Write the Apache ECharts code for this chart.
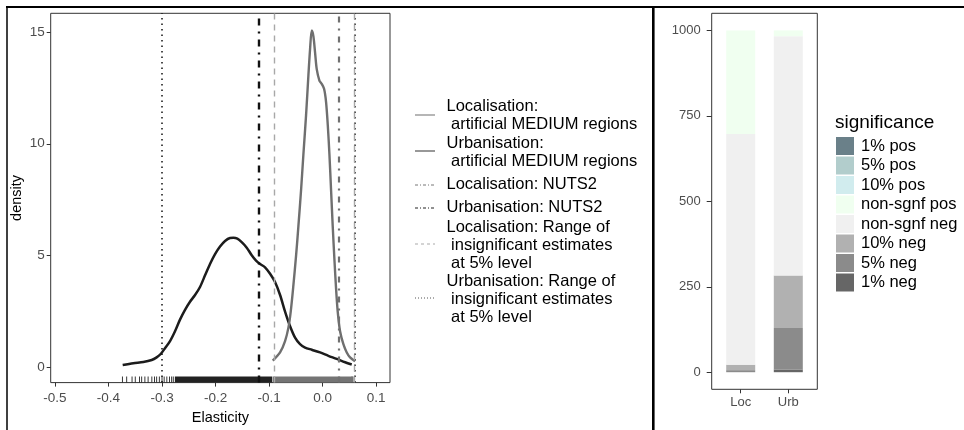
<!DOCTYPE html>
<html>
<head>
<meta charset="utf-8">
<script src="https://cdn.jsdelivr.net/npm/echarts@6/dist/echarts.min.js"></script>
<style>
html, body { margin: 0; padding: 0; background: #fff; }
#chart { width: 964px; height: 430px; }
</style>
</head>
<body>
<div id="chart"></div>
<script>
// Kernel density of the localisation estimates (artificial MEDIUM regions)
const locX = [-0.0931, -0.0794, -0.0701, -0.0639, -0.0595, -0.0545, -0.0495, -0.0452, -0.0402, -0.0358, -0.0308, -0.0265, -0.0234, -0.0202, -0.0171, -0.0140, -0.0109, -0.0059, -0.0016, 0.0028, 0.0065, 0.0097, 0.0128, 0.0159, 0.0190, 0.0221, 0.0252, 0.0283, 0.0327, 0.0389, 0.0452, 0.0514, 0.0607];
const locY = [0.29, 0.66, 1.17, 1.76, 2.49, 3.67, 4.99, 6.30, 7.92, 9.53, 11.29, 13.05, 14.22, 15.07, 14.81, 14.08, 13.34, 12.83, 12.68, 12.46, 11.88, 10.85, 9.53, 7.92, 6.30, 4.84, 3.52, 2.49, 1.61, 1.03, 0.66, 0.44, 0.26];
// Kernel density of the urbanisation estimates (artificial MEDIUM regions)
const urbX = [-0.3735, -0.3536, -0.3349, -0.3193, -0.3100, -0.3025, -0.2944, -0.2850, -0.2757, -0.2664, -0.2570, -0.2477, -0.2383, -0.2290, -0.2196, -0.2103, -0.2009, -0.1916, -0.1822, -0.1729, -0.1667, -0.1592, -0.1511, -0.1417, -0.1324, -0.1243, -0.1168, -0.1075, -0.0981, -0.0888, -0.0794, -0.0701, -0.0607, -0.0514, -0.0421, -0.0327, -0.0202, -0.0047, 0.0109, 0.0265, 0.0421, 0.0545];
const urbY = [0.10, 0.18, 0.23, 0.32, 0.44, 0.59, 0.85, 1.17, 1.61, 2.13, 2.57, 2.93, 3.23, 3.59, 4.11, 4.62, 5.06, 5.40, 5.65, 5.78, 5.79, 5.75, 5.60, 5.35, 5.01, 4.77, 4.62, 4.47, 4.18, 3.81, 3.23, 2.49, 1.83, 1.32, 1.03, 0.88, 0.78, 0.66, 0.51, 0.37, 0.22, 0.12];

// NUTS2 estimates and ranges of insignificant estimates
const locNuts2 = 0.025;
const urbNuts2 = -0.123;
const locInsigRange = [-0.087, 0.061];
const urbInsigRange = [-0.305, 0.056];

// Rug of individual estimates: [from, to] (single estimates have from == to)
const urbRug = [[-0.374, -0.374], [-0.366, -0.366], [-0.356, -0.356], [-0.350, -0.350], [-0.342, -0.342], [-0.338, -0.338], [-0.332, -0.332], [-0.326, -0.326], [-0.319, -0.319], [-0.314, -0.314], [-0.310, -0.310], [-0.305, -0.305], [-0.300, -0.300], [-0.296, -0.296], [-0.291, -0.291], [-0.286, -0.286], [-0.282, -0.282], [-0.279, -0.279], [-0.276, -0.094], [0.055, 0.055]];
const locRug = [[-0.093, 0.058]];

// Axis ticks of the density panel
const elasticityTicks = [-0.5, -0.4, -0.3, -0.2, -0.1, 0, 0.1];
const densityTicks = [0, 5, 10, 15];

// Counts of estimates by significance class
const sigCategories = ['Loc', 'Urb'];
const sigLevels = ['1% neg', '5% neg', '10% neg', 'non-sgnf neg', 'non-sgnf pos', '10% pos', '5% pos', '1% pos'];
const sigLoc = [0, 6, 16, 675, 303, 0, 0, 0];
const sigUrb = [8, 121, 154, 700, 17, 0, 0, 0];
const countTicks = [0, 250, 500, 750, 1000];

const FONT = '"Liberation Sans", Arial, sans-serif';
const sigColors = {
  '1% pos': '#6a8089', '5% pos': '#b2cdcc', '10% pos': '#d1ecee', 'non-sgnf pos': '#f0fff0',
  'non-sgnf neg': '#f0f0f0', '10% neg': '#b1b1b1', '5% neg': '#8b8b8b', '1% neg': '#666666'
};
const LOC_GREY = '#6f6f6f';
const URB_BLACK = '#1c1c1c';

const pairs = (xs, ys) => xs.map((x, i) => [x, ys[i]]);

const densityYMin = -0.69;

function rugItem(color) {
  return function (params, api) {
    const a = api.coord([api.value(0), densityYMin]);
    const b = api.coord([api.value(1), densityYMin]);
    const single = b[0] - a[0] < 0.5;
    return {
      type: 'rect',
      shape: { x: single ? a[0] - 0.45 : a[0], y: a[1] - 6, width: single ? 0.9 : b[0] - a[0], height: 6 },
      style: { fill: color }
    };
  };
}

const vLine = (x, color, width, dash) => ({
  xAxis: x,
  lineStyle: { color: color, width: width, type: dash }
});

// Left-hand legend: key style and wrapped label per entry (top = centre of first line)
const LEG_LH = 18;
const leftLegend = [
  { text: 'Localisation:\n artificial MEDIUM regions', top: 106, keyY: 115, color: '#7a7a7a', width: 1.1, dash: 'solid' },
  { text: 'Urbanisation:\n artificial MEDIUM regions', top: 143, keyY: 151, color: '#444', width: 1.1, dash: 'solid' },
  { text: 'Localisation: NUTS2', top: 184, keyY: 185, color: '#777', width: 1, dash: [3, 2, 1, 2] },
  { text: 'Urbanisation: NUTS2', top: 207, keyY: 208, color: '#222', width: 1, dash: [3, 2, 1, 2] },
  { text: 'Localisation: Range of\n insignificant estimates\n at 5% level', top: 227, keyY: 244, color: '#aaa', width: 1, dash: [3, 3] },
  { text: 'Urbanisation: Range of\n insignificant estimates\n at 5% level', top: 281, keyY: 298, color: '#555', width: 1, dash: [1, 2] }
];

const graphics = [];
leftLegend.forEach(item => {
  graphics.push({
    type: 'line',
    shape: { x1: 415, y1: item.keyY, x2: 435, y2: item.keyY },
    style: { stroke: item.color, lineWidth: item.width, lineDash: item.dash === 'solid' ? null : item.dash }
  });
  graphics.push({
    type: 'text',
    x: 446.5, y: item.top - LEG_LH / 2,
    style: { text: item.text, font: '16.5px ' + FONT, fill: '#000', lineHeight: LEG_LH, verticalAlign: 'top' }
  });
});
graphics.push({
  type: 'text', x: 835, y: 122.5,
  style: { text: 'significance', font: '19px ' + FONT, fill: '#000', verticalAlign: 'middle' }
});
// Panel border of the count chart
graphics.push({ type: 'rect', shape: { x: 711.7, y: 13.3, width: 105.6, height: 376 }, style: { fill: null, stroke: '#333', lineWidth: 1 }, z: 10 });
// Outer frame and the divider between the two panels
graphics.push({ type: 'line', shape: { x1: 6, y1: 7, x2: 964, y2: 7 }, style: { stroke: '#000', lineWidth: 2 } });
graphics.push({ type: 'line', shape: { x1: 7, y1: 7, x2: 7, y2: 430 }, style: { stroke: '#000', lineWidth: 1.5 } });
graphics.push({ type: 'line', shape: { x1: 653.3, y1: 7, x2: 653.3, y2: 430 }, style: { stroke: '#000', lineWidth: 2.6 } });

const barSeries = sigLevels.map((lvl, i) => ({
  name: lvl,
  type: 'bar',
  xAxisIndex: 1,
  yAxisIndex: 1,
  stack: 'sig',
  barWidth: 29,
  itemStyle: { color: sigColors[lvl] },
  data: [sigLoc[i], sigUrb[i]]
}));

const chart = echarts.init(document.getElementById('chart'), null, { renderer: 'canvas' });
chart.setOption({
  animation: false,
  backgroundColor: '#fff',
  textStyle: { fontFamily: FONT },
  grid: [
    { left: 50.7, top: 13.3, width: 339.3, height: 375.7, show: true, borderColor: '#333', borderWidth: 1 },
    { left: 716.9, top: 13.3, width: 95.2, height: 376, show: false }
  ],
  xAxis: [
    {
      type: 'value', gridIndex: 0, min: -0.508, max: 0.126,
      splitLine: { show: false }, axisLine: { show: false, onZero: false },
      axisTick: { show: true, customValues: elasticityTicks, length: 4, lineStyle: { color: '#333' } },
      axisLabel: { customValues: elasticityTicks, formatter: v => v.toFixed(1), fontSize: 13.5, color: '#4d4d4d', margin: 8.5, fontFamily: FONT },
      name: 'Elasticity', nameLocation: 'middle', nameGap: 21,
      nameTextStyle: { fontSize: 14.5, color: '#000', fontFamily: FONT }
    },
    {
      type: 'category', gridIndex: 1, data: sigCategories, boundaryGap: true,
      splitLine: { show: false }, axisLine: { show: false, onZero: false },
      axisTick: { show: true, alignWithLabel: true, length: 4, lineStyle: { color: '#333' } },
      axisLabel: { fontSize: 13, color: '#4d4d4d', margin: 6.5, fontFamily: FONT }
    }
  ],
  yAxis: [
    {
      type: 'value', gridIndex: 0, min: densityYMin, max: 15.84,
      splitLine: { show: false }, axisLine: { show: false, onZero: false },
      axisTick: { show: true, customValues: densityTicks, length: 4, lineStyle: { color: '#333' } },
      axisLabel: { customValues: densityTicks, fontSize: 13.5, color: '#4d4d4d', margin: 6, fontFamily: FONT },
      name: 'density', nameLocation: 'middle', nameGap: 26,
      nameTextStyle: { fontSize: 14.5, color: '#000', fontFamily: FONT }
    },
    {
      type: 'value', gridIndex: 1, min: -50, max: 1050, offset: 5.2,
      splitLine: { show: false }, axisLine: { show: false, onZero: false },
      axisTick: { show: true, customValues: countTicks, length: 5, lineStyle: { color: '#333' } },
      axisLabel: { customValues: countTicks, formatter: v => String(v), fontSize: 13, color: '#4d4d4d', margin: 11, fontFamily: FONT }
    }
  ],
  legend: {
    data: sigLevels.slice().reverse(),
    orient: 'vertical',
    left: 836, top: 137, padding: 0,
    itemWidth: 18, itemHeight: 18, itemGap: 1.5,
    icon: 'rect',
    selectedMode: false,
    textStyle: { fontSize: 16.5, color: '#000', fontFamily: FONT, lineHeight: 18, padding: [0, 0, 0, 2] }
  },
  graphic: graphics,
  series: [
    {
      name: 'Urbanisation density', type: 'line', xAxisIndex: 0, yAxisIndex: 0,
      data: pairs(urbX, urbY), smooth: 0.3, showSymbol: false,
      lineStyle: { color: URB_BLACK, width: 2.5 }, z: 4,
      markLine: {
        silent: true, symbol: 'none', label: { show: false },
        data: [
          vLine(urbInsigRange[0], '#111', 1.5, [1.5, 4]),
          vLine(urbInsigRange[1], '#111', 1.5, [1.5, 4]),
          vLine(urbNuts2, '#111', 2.4, [7, 6, 2, 6])
        ]
      }
    },
    {
      name: 'Localisation density', type: 'line', xAxisIndex: 0, yAxisIndex: 0,
      data: pairs(locX, locY), smooth: 0.3, showSymbol: false,
      lineStyle: { color: LOC_GREY, width: 2.4 }, z: 4,
      markLine: {
        silent: true, symbol: 'none', label: { show: false },
        data: [
          vLine(locInsigRange[0], '#a8a8a8', 1.4, [6, 5]),
          vLine(locInsigRange[1], '#a8a8a8', 1.4, [6, 5]),
          vLine(locNuts2, '#707070', 2.2, [6, 6, 2, 6])
        ]
      }
    },
    {
      type: 'custom', xAxisIndex: 0, yAxisIndex: 0, silent: true, z: 3,
      renderItem: rugItem('#222'), data: urbRug
    },
    {
      type: 'custom', xAxisIndex: 0, yAxisIndex: 0, silent: true, z: 3,
      renderItem: rugItem('#747474'), data: locRug
    }
  ].concat(barSeries)
});
</script>
</body>
</html>
